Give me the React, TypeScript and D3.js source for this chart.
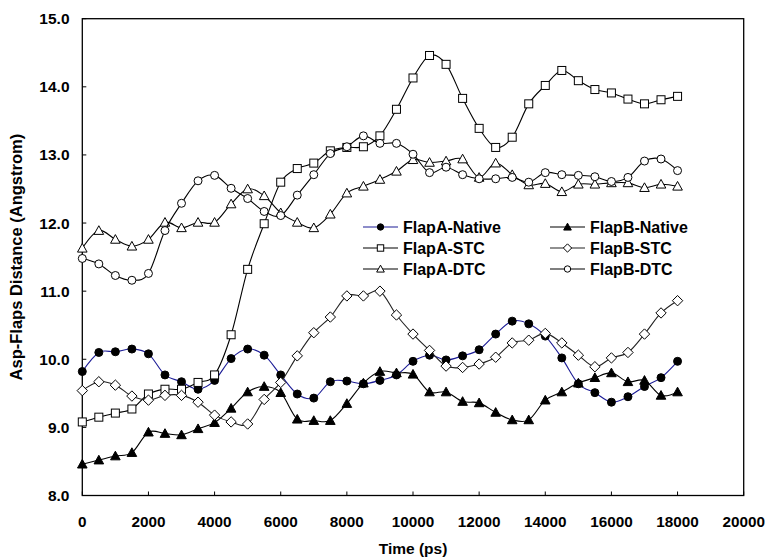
import React from "react";
import * as d3 from "d3";

// Simulation time points (ps)
const times = [
  0, 500, 1000, 1500, 2000, 2500, 3000, 3500, 4000, 4500, 5000, 5500, 6000,
  6500, 7000, 7500, 8000, 8500, 9000, 9500, 10000, 10500, 11000, 11500, 12000,
  12500, 13000, 13500, 14000, 14500, 15000, 15500, 16000, 16500, 17000, 17500,
  18000,
];

// Asp-Flap distances (Angstrom) for each run
const flapANative = [
  9.82, 10.1, 10.11, 10.15, 10.08, 9.77, 9.67, 9.56, 9.69, 10.01, 10.15, 10.06,
  9.77, 9.49, 9.43, 9.67, 9.68, 9.64, 9.69, 9.77, 9.97, 10.06, 9.99, 10.05,
  10.14, 10.37, 10.56, 10.52, 10.34, 10.02, 9.64, 9.51, 9.37, 9.45, 9.6, 9.73,
  9.97,
];
const flapBNative = [
  8.46, 8.52, 8.58, 8.63, 8.93, 8.91, 8.89, 8.98, 9.07, 9.28, 9.52, 9.6, 9.51,
  9.12, 9.1, 9.1, 9.35, 9.65, 9.82, 9.8, 9.78, 9.52, 9.52, 9.38, 9.36, 9.22,
  9.11, 9.11, 9.4, 9.52, 9.65, 9.73, 9.8, 9.67, 9.69, 9.47, 9.52,
];
const flapASTC = [
  9.08, 9.15, 9.21, 9.27, 9.49, 9.56, 9.56, 9.66, 9.77, 10.36, 11.32, 11.99,
  12.6, 12.8, 12.88, 13.06, 13.11, 13.12, 13.28, 13.67, 14.13, 14.46, 14.33,
  13.83, 13.39, 13.11, 13.26, 13.75, 14.02, 14.24, 14.09, 13.96, 13.91, 13.82,
  13.75, 13.81, 13.86,
];
const flapBSTC = [
  9.54, 9.67, 9.62, 9.46, 9.4, 9.47, 9.47, 9.37, 9.18, 9.08, 9.05, 9.41, 9.66,
  10.05, 10.39, 10.62, 10.93, 10.93, 11.0, 10.65, 10.37, 10.13, 9.9, 9.88,
  9.93, 10.03, 10.24, 10.28, 10.38, 10.24, 10.06, 9.89, 10.02, 10.1, 10.37,
  10.68, 10.86,
];
const flapADTC = [
  11.63, 11.89, 11.76, 11.66, 11.76, 12.01, 11.93, 12.01, 12.01, 12.28, 12.5,
  12.4, 12.15, 12.01, 11.93, 12.13, 12.44, 12.54, 12.64, 12.76, 12.93, 12.89,
  12.91, 12.94, 12.67, 12.88, 12.71, 12.56, 12.58, 12.46, 12.57, 12.57, 12.59,
  12.59, 12.52, 12.57, 12.54,
];
const flapBDTC = [
  11.48, 11.4, 11.23, 11.16, 11.26, 11.89, 12.29, 12.62, 12.7, 12.51, 12.36,
  12.17, 12.11, 12.41, 12.71, 13.02, 13.12, 13.28, 13.17, 13.17, 13.01, 12.74,
  12.82, 12.71, 12.65, 12.65, 12.67, 12.6, 12.74, 12.71, 12.7, 12.68, 12.61,
  12.67, 12.91, 12.94, 12.77,
];

const xTicks = [0, 2000, 4000, 6000, 8000, 10000, 12000, 14000, 16000, 18000, 20000];
const yTicks = [8, 9, 10, 11, 12, 13, 14, 15];

type Marker = "circle" | "triangle" | "square" | "diamond";
interface Series {
  name: string;
  values: number[];
  marker: Marker;
  filled: boolean;
  line: string;
}

const series: Series[] = [
  { name: "FlapA-Native", values: flapANative, marker: "circle", filled: true, line: "#1c1c96" },
  { name: "FlapB-Native", values: flapBNative, marker: "triangle", filled: true, line: "#000" },
  { name: "FlapA-STC", values: flapASTC, marker: "square", filled: false, line: "#000" },
  { name: "FlapB-STC", values: flapBSTC, marker: "diamond", filled: false, line: "#222" },
  { name: "FlapA-DTC", values: flapADTC, marker: "triangle", filled: false, line: "#000" },
  { name: "FlapB-DTC", values: flapBDTC, marker: "circle", filled: false, line: "#000" },
];

const W = 769;
const H = 558;
const left = 82.3;
const right = 743.7;
const top = 18.7;
const bottom = 495.5;

const x = d3.scaleLinear().domain([0, 20000]).range([left, right]);
const y = d3.scaleLinear().domain([8, 15]).range([bottom, top]);

const font = "'Liberation Sans', Arial, Helvetica, sans-serif";

function MarkerShape({ kind, filled, cx, cy, s = 1 }: { kind: Marker; filled: boolean; cx: number; cy: number; s?: number }) {
  const fill = filled ? "#000" : "#fff";
  const common = { fill, stroke: "#000", strokeWidth: 1 };
  if (kind === "circle") return <circle cx={cx} cy={cy} r={4 * s} {...common} />;
  if (kind === "square") {
    const h = 4 * s;
    return <rect x={cx - h} y={cy - h} width={2 * h} height={2 * h} {...common} />;
  }
  if (kind === "triangle") {
    const h = 4.8 * s;
    const pts = `${cx},${cy - h} ${cx + h},${cy + h * 0.8} ${cx - h},${cy + h * 0.8}`;
    return <polygon points={pts} {...common} />;
  }
  const h = 5.2 * s;
  const pts = `${cx},${cy - h} ${cx + h},${cy} ${cx},${cy + h} ${cx - h},${cy}`;
  return <polygon points={pts} {...common} />;
}

const lineGen = d3
  .line<[number, number]>()
  .x((d) => x(d[0]))
  .y((d) => y(d[1]))
  .curve(d3.curveCardinal.tension(0));

const legendCols = [363, 550];
const legendRows = [227, 248, 269];

export default function App() {
  return (
    <div style={{ position: "fixed", left: 0, top: 0 }}>
      <svg width={W} height={H} style={{ display: "block", background: "#fff" }}>
        {/* plot frame */}
        <rect x={left} y={top} width={right - left} height={bottom - top} fill="none" stroke="#000" strokeWidth={1.3} />

        {/* x ticks (inside) and labels */}
        {xTicks.map((t) => (
          <g key={`x${t}`}>
            <line x1={x(t)} x2={x(t)} y1={bottom} y2={bottom - 4} stroke="#000" strokeWidth={1} />
            <text x={x(t)} y={527} textAnchor="middle" fontFamily={font} fontWeight="bold" fontSize={15.3}>
              {t}
            </text>
          </g>
        ))}

        {/* y ticks (inside) and labels */}
        {yTicks.map((t) => (
          <g key={`y${t}`}>
            <line x1={left} x2={left + 4} y1={y(t)} y2={y(t)} stroke="#000" strokeWidth={1} />
            <text x={69.5} y={y(t) + 5.5} textAnchor="end" fontFamily={font} fontWeight="bold" fontSize={15.5}>
              {d3.format(".1f")(t)}
            </text>
          </g>
        ))}

        <text x={(left + right) / 2} y={554} textAnchor="middle" fontFamily={font} fontWeight="bold" fontSize={15.5}>
          Time (ps)
        </text>
        <text
          transform={`translate(22, ${(top + bottom) / 2}) rotate(-90)`}
          textAnchor="middle"
          fontFamily={font}
          fontWeight="bold"
          fontSize={16.5}
        >
          Asp-Flaps Distance (Angstrom)
        </text>

        {/* series */}
        {series.map((s) => {
          const pts: [number, number][] = times.map((t, i) => [t, s.values[i]]);
          return (
            <g key={s.name}>
              <path d={lineGen(pts) ?? ""} fill="none" stroke={s.line} strokeWidth={1.1} />
              {pts.map((p, i) => (
                <MarkerShape key={i} kind={s.marker} filled={s.filled} cx={x(p[0])} cy={y(p[1])} />
              ))}
            </g>
          );
        })}

        {/* legend */}
        {series.map((s, i) => {
          const col = i % 2;
          const row = Math.floor(i / 2);
          const lx = legendCols[col];
          const ly = legendRows[row];
          return (
            <g key={`lg${s.name}`}>
              <line x1={lx} x2={lx + 35} y1={ly} y2={ly} stroke={s.line} strokeWidth={1.1} />
              <MarkerShape kind={s.marker} filled={s.filled} cx={lx + 17.5} cy={ly} s={0.8} />
              <text x={lx + 40} y={ly + 5.5} fontFamily={font} fontWeight="bold" fontSize={16}>
                {s.name}
              </text>
            </g>
          );
        })}
      </svg>
    </div>
  );
}
